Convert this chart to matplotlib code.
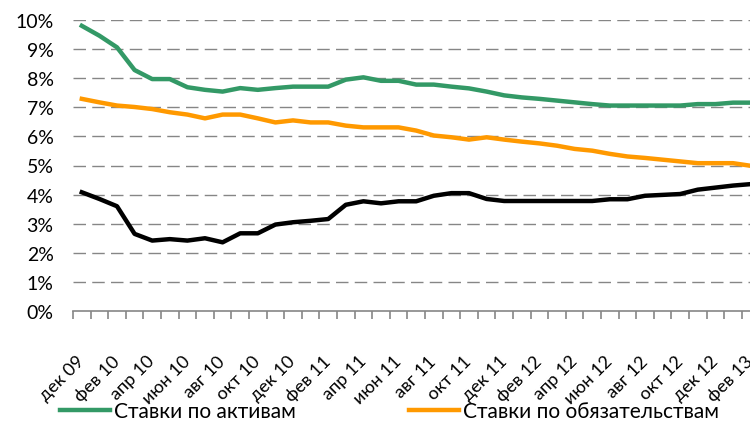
import numpy as np
import matplotlib
matplotlib.use("Agg")
import matplotlib.pyplot as plt
from matplotlib.ticker import FixedLocator, FuncFormatter

plt.rcParams['font.family'] = ['Lato', 'DejaVu Sans']

# Monthly rates, дек 09 .. фев 13 (%)
months = ["дек", "янв", "фев", "мар", "апр", "май", "июн", "июл", "авг", "сен", "окт", "ноя"]
start_year = 9

assets = [9.80, 9.46, 9.06, 8.28, 7.97, 7.97, 7.69, 7.60, 7.54, 7.66,
          7.60, 7.66, 7.71, 7.71, 7.71, 7.95, 8.03, 7.91, 7.91, 7.78,
          7.78, 7.71, 7.65, 7.54, 7.41, 7.34, 7.29, 7.23, 7.17, 7.11,
          7.06, 7.06, 7.06, 7.06, 7.06, 7.11, 7.11, 7.16, 7.16]
liabilities = [7.29, 7.17, 7.06, 7.01, 6.94, 6.83, 6.75, 6.62, 6.75, 6.75,
               6.62, 6.48, 6.55, 6.48, 6.48, 6.37, 6.31, 6.31, 6.31, 6.20,
               6.03, 5.97, 5.89, 5.97, 5.89, 5.82, 5.76, 5.68, 5.57, 5.51,
               5.40, 5.31, 5.26, 5.20, 5.14, 5.08, 5.08, 5.08, 4.99]
spread = [4.08, 3.85, 3.60, 2.65, 2.42, 2.47, 2.42, 2.50, 2.36, 2.67,
          2.67, 2.97, 3.05, 3.10, 3.16, 3.65, 3.77, 3.70, 3.77, 3.77,
          3.96, 4.05, 4.05, 3.85, 3.78, 3.78, 3.78, 3.78, 3.78, 3.78,
          3.84, 3.84, 3.96, 3.99, 4.02, 4.17, 4.24, 4.31, 4.36]

# Tick labels: every second month
labels = []
for i in range(len(assets)):
    m = i % 12
    y = start_year + (i + 11) // 12
    labels.append("%s %02d" % (months[m], y))

GREEN = "#339966"
ORANGE = "#FF9900"
GRID = "#868686"

fig = plt.figure(figsize=(7.5, 4.27), dpi=100)
# plot area runs slightly past the right edge, as in the original crop
ax = fig.add_axes([73 / 750, 1 - 312 / 427, 686.4 / 750, 291 / 427])

x = np.arange(len(assets))
ax.plot(x, assets, color=GREEN, lw=3.2, label="Ставки по активам", zorder=3)
ax.plot(x, liabilities, color=ORANGE, lw=3.2, label="Ставки по обязательствам", zorder=3)
ax.plot(x, spread, color="black", lw=3.2, zorder=3)

ax.set_xlim(-0.5, len(assets) - 0.5)
ax.set_ylim(0, 10)

# horizontal dashed grid
ax.yaxis.set_major_locator(FixedLocator(np.arange(0, 11)))
ax.yaxis.set_major_formatter(FuncFormatter(lambda v, p: "%d%%" % v))
for v in range(1, 11):
    ax.axhline(v, color=GRID, lw=1.0, dashes=(9, 4.5), zorder=1)

for side in ["top", "right", "left"]:
    ax.spines[side].set_visible(False)
ax.spines["bottom"].set_color(GRID)
ax.spines["bottom"].set_linewidth(1.2)

ax.tick_params(axis="y", length=0, pad=14, labelsize=14, labelcolor="black")

# category ticks between months, labels every two months
ax.set_xticks(x[::2])
ax.set_xticklabels(labels[::2], rotation=45, ha="right", va="center",
                   rotation_mode="anchor", fontsize=13)
ax.set_xticks(np.arange(-0.5, len(assets)), minor=True)
ax.tick_params(axis="x", which="major", length=0, pad=34)
ax.tick_params(axis="x", which="minor", length=6, width=1.2, color=GRID, direction="out")

fig.legend(loc="center left", bbox_to_anchor=(60 / 750, 1 - 412 / 427), ncol=2,
           frameon=False, fontsize=15, handlelength=2.4, handletextpad=0.2,
           columnspacing=5.4, borderaxespad=0, borderpad=0)

fig.savefig("out.png", dpi=100)
